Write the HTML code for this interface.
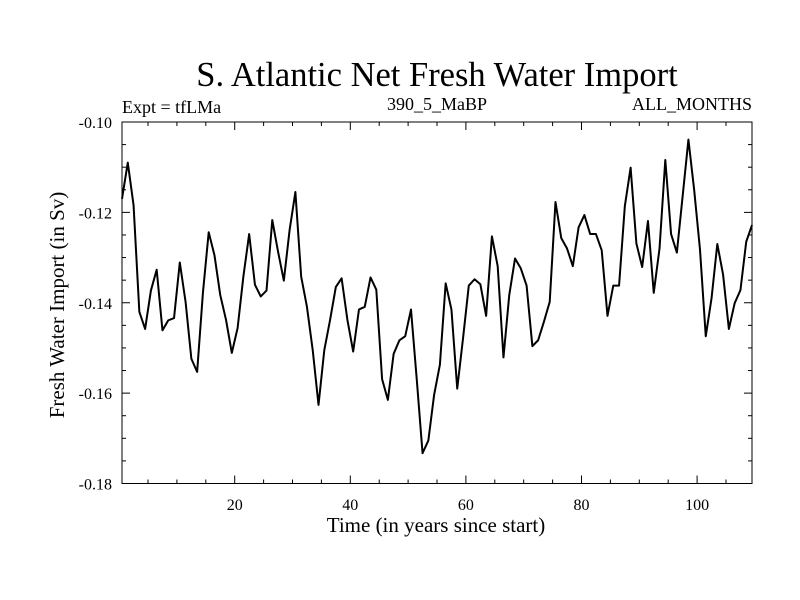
<!DOCTYPE html>
<html><head><meta charset="utf-8"><style>
html,body{margin:0;padding:0;background:#fff;}
svg{display:block;font-family:"Liberation Serif",serif;}
</style></head><body>
<svg width="800" height="600" xmlns="http://www.w3.org/2000/svg">
<text x="437" y="86" font-size="34.5" text-anchor="middle">S. Atlantic Net Fresh Water Import</text>
<text x="122" y="113" font-size="18">Expt = tfLMa</text>
<text x="437" y="110" font-size="18" text-anchor="middle">390_5_MaBP</text>
<text x="752" y="110" font-size="18" text-anchor="end">ALL_MONTHS</text>
<text x="436" y="532" font-size="21" text-anchor="middle">Time (in years since start)</text>
<text transform="translate(64,305) rotate(-90)" font-size="21" text-anchor="middle">Fresh Water Import (in Sv)</text>
<g id="ticks"></g>
<rect x="122" y="122" width="630" height="361.5" fill="none" stroke="#000" stroke-width="1"/>
<path id="series" fill="none" stroke="#000" stroke-width="2" stroke-linejoin="round"/>
</svg>
<script>
const values = [
-0.1170,-0.1090,-0.1184,-0.1420,-0.1458,-0.1373,-0.1327,-0.1461,-0.1439,-0.1434,
-0.1311,-0.1398,-0.1524,-0.1553,-0.1378,-0.1244,-0.1295,-0.1383,-0.1438,-0.1511,
-0.1456,-0.1342,-0.1248,-0.1360,-0.1386,-0.1373,-0.1217,-0.1287,-0.1351,-0.1239,
-0.1155,-0.1342,-0.1409,-0.1505,-0.1626,-0.1505,-0.1438,-0.1365,-0.1346,-0.1438,
-0.1508,-0.1415,-0.1409,-0.1344,-0.1371,-0.1569,-0.1615,-0.1513,-0.1483,-0.1474,
-0.1415,-0.1570,-0.1733,-0.1705,-0.1604,-0.1537,-0.1357,-0.1415,-0.1590,-0.1479,
-0.1362,-0.1348,-0.1359,-0.1429,-0.1253,-0.1319,-0.1521,-0.1383,-0.1302,-0.1324,
-0.1362,-0.1496,-0.1483,-0.1442,-0.1398,-0.1177,-0.1257,-0.1280,-0.1319,-0.1233,
-0.1206,-0.1248,-0.1248,-0.1284,-0.1429,-0.1362,-0.1362,-0.1186,-0.1101,-0.1269,
-0.1321,-0.1219,-0.1378,-0.1280,-0.1084,-0.1248,-0.1289,-0.1164,-0.1039,-0.1151,
-0.1282,-0.1474,-0.1390,-0.1270,-0.1338,-0.1458,-0.1401,-0.1372,-0.1265,-0.1228
];
const xStart = 0.5;
const xTickLabels = [20,40,60,80,100];
const yTickLabels = [-0.10,-0.12,-0.14,-0.16,-0.18];
const L=122,R=752,T=122,B=483.5, X0=0.5, X1=109.5, Y0=-0.18, Y1=-0.10;
const sx=v=>L+(v-X0)/(X1-X0)*(R-L);
const sy=v=>B-(v-Y0)/(Y1-Y0)*(B-T);
const NS="http://www.w3.org/2000/svg";
let d="";
values.forEach((v,i)=>{d+=(i?"L":"M")+sx(xStart+i).toFixed(2)+","+sy(v).toFixed(2);});
document.getElementById("series").setAttribute("d",d);
const g=document.getElementById("ticks");
function line(x1,y1,x2,y2,name){
  const l=document.createElementNS(NS,"line");
  l.setAttribute("x1",x1);l.setAttribute("y1",y1);l.setAttribute("x2",x2);l.setAttribute("y2",y2);
  l.setAttribute("stroke","#000");l.setAttribute("stroke-width","1");
  
  
  g.appendChild(l);
}
function text(x,y,s,anchor,name){
  const t=document.createElementNS(NS,"text");
  t.setAttribute("x",x);t.setAttribute("y",y);t.setAttribute("font-size","16");t.setAttribute("text-anchor",anchor);
  t.textContent=s;
  
  
  g.appendChild(t);
}
for(let v=5;v<=105;v+=5){
  const major=v%20===0, len=major?8:4, x=sx(v);
  line(x,B,x,B-len,"x-tick");
  line(x,T,x,T+len,"x-tick-top");
}
xTickLabels.forEach(v=>text(sx(v),510,String(v),"middle","x-tick-label"));
for(let k=0;k<=16;k++){
  const v=Y0+k*0.005, major=k%4===0, len=major?8:4, y=sy(v);
  line(L,y,L+len,y,"y-tick");
  line(R,y,R-len,y,"y-tick-right");
}
yTickLabels.forEach(v=>text(112,sy(v)+6,v.toFixed(2),"end","y-tick-label"));
</script>
</body></html>
